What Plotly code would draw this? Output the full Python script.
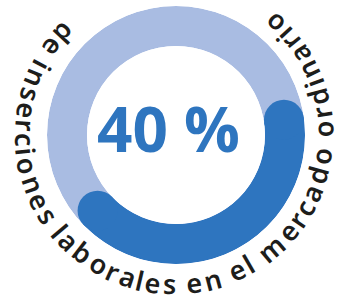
import math
import plotly.graph_objects as go

# ---- data ----
value_pct = 40
value_label = "40 %"
caption = "de inserciones laborales en el mercado ordinario"

# ---- style ----
W, H = 340, 299
ring_cx, ring_cy, ring_outer, ring_inner = 176, 135, 129, 89
dark = "#2E75BF"
light = "#A9BCE2"
start_angle = 224  # degrees, math convention

text_cx, text_cy, text_r = 174, 135, 149
text_start, text_end = 137, 408
text_font = "Noto Sans"
text_size = 27

span = value_pct / 100 * 360
thick = ring_outer - ring_inner

fig = go.Figure()
fig.add_trace(go.Barpolar(r=[1], theta=[180], width=[360], base=0,
                          marker=dict(color=light, line=dict(width=0)),
                          hoverinfo="skip"))
fig.add_trace(go.Barpolar(r=[1], theta=[start_angle + span / 2], width=[span], base=0,
                          marker=dict(color=dark, line=dict(width=0)),
                          hoverinfo="skip"))
fig.add_trace(go.Scatterpolar(r=[0.5, 0.5], theta=[start_angle, start_angle + span],
                              mode="markers",
                              marker=dict(color=dark, size=thick, line=dict(width=0)),
                              hoverinfo="skip"))

fig.update_layout(
    width=W, height=H,
    margin=dict(l=0, r=0, t=0, b=0),
    paper_bgcolor="white",
    showlegend=False,
    polar=dict(
        domain=dict(x=[(ring_cx - ring_outer) / W, (ring_cx + ring_outer) / W],
                    y=[1 - (ring_cy + ring_outer) / H, 1 - (ring_cy - ring_outer) / H]),
        hole=ring_inner / ring_outer,
        bgcolor="rgba(0,0,0,0)",
        radialaxis=dict(visible=False, range=[0, 1]),
        angularaxis=dict(visible=False, direction="counterclockwise", rotation=0),
    ),
)

# curved caption
widths = {"d": .623, "e": .563, " ": .26, "i": .258, "n": .625, "s": .479, "r": .411,
          "c": .48, "o": .612, "l": .258, "a": .561, "b": .623, "m": .952}
pos = []
acc = 0.0
for ch in caption:
    w = widths.get(ch, .55)
    pos.append(acc + w / 2)
    acc += w
s0, s1 = pos[0], pos[-1]
for ch, s in zip(caption, pos):
    if ch == " ":
        continue
    th = text_start + (s - s0) / (s1 - s0) * (text_end - text_start)
    rad = math.radians(th)
    px = text_cx + text_r * math.cos(rad)
    py = text_cy - text_r * math.sin(rad)
    ang = (270 - th + 180) % 360 - 180
    fig.add_annotation(x=px / W, y=1 - py / H, xref="paper", yref="paper",
                       text=ch, showarrow=False, textangle=ang,
                       xanchor="center", yanchor="middle",
                       font=dict(family=text_font, size=text_size, color="#1d1d1b", weight=600))

fig.add_annotation(x=168 / W, y=1 - 128 / H, xref="paper", yref="paper",
                   text=value_label, showarrow=False,
                   xanchor="center", yanchor="middle",
                   font=dict(family="Open Sans", size=62, color=dark, weight=700))

fig.write_html("out.html", config={"displayModeBar": False},
               post_script="document.body.style.margin='0';")
